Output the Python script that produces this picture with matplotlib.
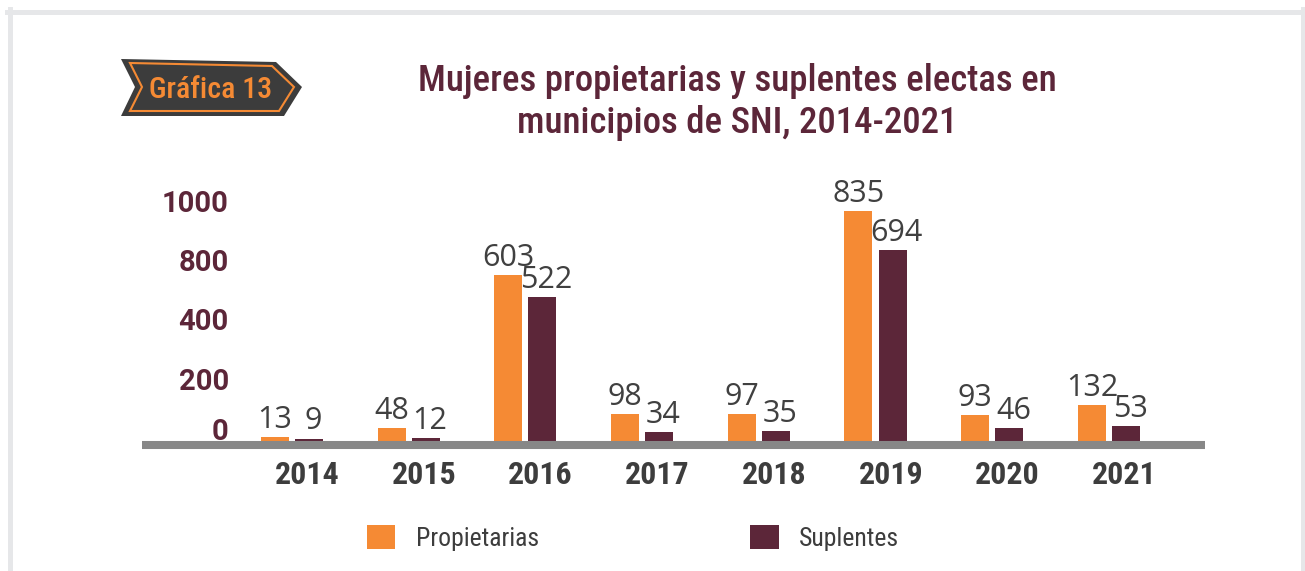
import numpy as np
import matplotlib
matplotlib.use("Agg")
import matplotlib.pyplot as plt
from matplotlib import font_manager as fm
from matplotlib.patches import Polygon, Patch
from matplotlib.lines import Line2D

years = ["2014", "2015", "2016", "2017", "2018", "2019", "2020", "2021"]
propietarias = [13, 48, 603, 98, 97, 835, 93, 132]
suplentes = [9, 12, 522, 34, 35, 694, 46, 53]
ytick_labels = ["0", "200", "400", "800", "1000"]
ytick_pos = [44, 225, 444, 658, 873]
title = "Mujeres propietarias y suplentes electas en\nmunicipios de SNI, 2014-2021"
badge = "Gráfica 13"

ORANGE = "#f58a34"
MAROON = "#5c2639"
DARK = "#404040"


def pick(names):
    for n in names:
        try:
            fm.findfont(fm.FontProperties(family=n), fallback_to_default=False)
            return n
        except Exception:
            pass
    return "DejaVu Sans"


NARROW = pick(["Liberation Sans Narrow", "Roboto Condensed", "Roboto"])
SEGOE = pick(["Open Sans", "Noto Sans"])
BOLDNUM = pick(["Roboto", "Lato"])

W, H = 1305, 571
fig = plt.figure(figsize=(W / 100, H / 100), dpi=100)
fig.patch.set_facecolor("white")


def fx(px):
    return px / W


def fy(py):
    return 1 - py / H


# axes
ax = fig.add_axes([fx(142), fy(441), fx(1205) - fx(142), fy(180) - fy(441)])
ax.set_facecolor("none")
x = np.arange(len(years))
bw = 0.24
off = 0.146
b1 = ax.bar(x - off, propietarias, bw, color=ORANGE, zorder=2)
b2 = ax.bar(x + off, suplentes, bw, color=MAROON, zorder=2)
ax.set_xlim(-1.285, 7.823)
ax.set_ylim(0, 949)

for bars, vals, dx in ((b1, propietarias, 0), (b2, suplentes, 3)):
    for r, v in zip(bars, vals):
        ax.annotate(str(v), (r.get_x() + r.get_width() / 2, r.get_height()),
                    xytext=(dx, 6.5), textcoords="offset points",
                    ha="center", va="baseline", fontsize=22,
                    family=SEGOE, color=DARK)

for s in ("top", "left", "right"):
    ax.spines[s].set_visible(False)
ax.spines["bottom"].set_color("#878787")
ax.spines["bottom"].set_linewidth(5.8)
ax.spines["bottom"].set_capstyle("butt")
ax.spines["bottom"].set_position(("outward", 2.9))
ax.spines["bottom"].set_zorder(3)

ax.set_xticks(x + 0.13)
ax.set_xticklabels(years, fontsize=23, fontweight="bold", family=NARROW, color="#3d3d3d")
ax.tick_params(axis="x", length=0, pad=11)

ax.set_yticks(ytick_pos)
ax.set_yticklabels(ytick_labels, fontsize=21, fontweight="bold", family=BOLDNUM, color=MAROON)
ax.tick_params(axis="y", length=0, pad=-62.5)

# title
fig.text(fx(737), fy(102), title, ha="center", va="center", fontsize=26.5,
         family=NARROW, fontweight="medium", color=MAROON, linespacing=1.22)

# badge
outer = [(121, 59), (276, 62), (302, 87), (284, 116), (121, 116), (135, 87)]
inner = [(130, 63), (272, 66), (294, 87), (279, 111), (130, 111), (142, 87)]
fig.patches.append(Polygon([(fx(a), fy(b)) for a, b in outer], closed=True,
                           transform=fig.transFigure, facecolor="#3c3c3c",
                           edgecolor="none", zorder=1))
fig.patches.append(Polygon([(fx(a), fy(b)) for a, b in inner], closed=True,
                           transform=fig.transFigure, facecolor="none",
                           edgecolor=ORANGE, linewidth=1.5, zorder=2))
fig.text(fx(211), fy(90), badge, ha="center", va="center", fontsize=21.5,
         family=NARROW, fontweight="medium", color=ORANGE, zorder=3)

# frame
frame_c = "#e6e7e9"
fig.lines.append(Line2D([fx(9.5), fx(9.5)], [fy(9), fy(575)], transform=fig.transFigure,
                        color=frame_c, linewidth=3.6))
fig.lines.append(Line2D([fx(7), fx(1305)], [fy(11.5), fy(11.5)], transform=fig.transFigure,
                        color=frame_c, linewidth=3.6))
fig.lines.append(Line2D([fx(1302.5), fx(1302.5)], [fy(9), fy(575)], transform=fig.transFigure,
                        color=frame_c, linewidth=3.6))

# legend
handles = [Patch(facecolor=ORANGE, edgecolor="none", label="Propietarias"),
           Patch(facecolor=MAROON, edgecolor="none", label="Suplentes")]
leg = fig.legend(handles=handles, loc="center", bbox_to_anchor=(fx(633), fy(538)),
                 ncol=2, frameon=False, prop={"family": NARROW, "size": 18.5},
                 handlelength=1.12, handleheight=1.05, handletextpad=0.8,
                 columnspacing=8.2, labelcolor="#3d3d3d")

fig.savefig("out.png", dpi=100, facecolor="white")
